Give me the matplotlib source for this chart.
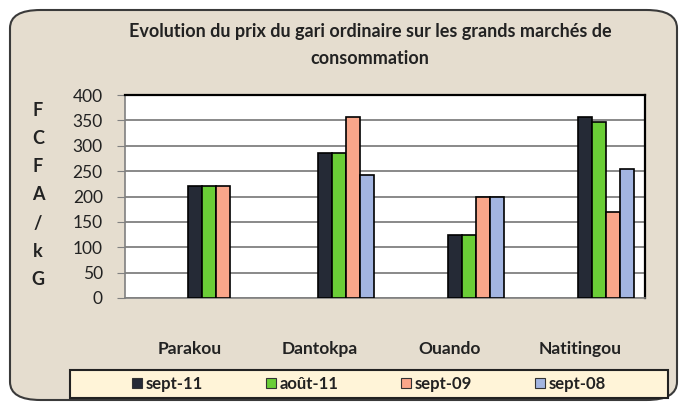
import numpy as np
import matplotlib.pyplot as plt
from matplotlib.patches import FancyBboxPatch, Rectangle, Patch

# Prix du gari ordinaire (FCFA/kg)
markets = ["Parakou", "Dantokpa", "Ouando", "Natitingou"]
periods = ["sept-11", "août-11", "sept-09", "sept-08"]
sept_11 = [220, 285, 125, 357]
aout_11 = [220, 285, 125, 346]
sept_09 = [220, 357, 200, 170]
sept_08 = [np.nan, 242, 200, 255]
colors = ["#252a36", "#6acd36", "#f9a68a", "#a3b5e1"]

plt.rcParams['font.family'] = ['Lato', 'DejaVu Sans']

fig = plt.figure(figsize=(6.8, 4.03), dpi=100)
W, H = 680, 403
fig.patch.set_facecolor("white")

# outer rounded frame
frame = FancyBboxPatch((10 / W, 3 / H), 667 / W, 390 / H,
                       boxstyle="round,pad=0,rounding_size=0.045",
                       transform=fig.transFigure, facecolor="#e5ddcf",
                       edgecolor="#3a3a3a", linewidth=1.5, zorder=0)
fig.patches.append(frame)

ax = fig.add_axes([125 / W, (H - 298) / H, 520 / W, 203 / H])
ax.set_zorder(3)
ax.set_facecolor("white")

x = np.arange(len(markets))
w = 14 / 130
shift = 26 / 130
series = [sept_11, aout_11, sept_09, sept_08]
for k, vals in enumerate(series):
    ax.bar(x + shift + (k - 1.5) * w, vals, width=w, color=colors[k],
           edgecolor="black", linewidth=1.2, label=periods[k], zorder=3)

ax.set_xlim(-0.5, 3.5)
ax.set_ylim(0, 400)
ax.set_yticks(range(0, 401, 50))
ax.yaxis.grid(True, color="#808080", linewidth=1.3, zorder=1)
ax.set_axisbelow(True)
ax.set_xticks(x)
ax.set_xticklabels(markets, fontsize=12.5, fontweight="bold", color="#222222")
ax.tick_params(axis="x", length=0, pad=31)
ax.tick_params(axis="y", length=6, color="#808080", labelsize=12.5,
               labelcolor="#222222", pad=10)

for s in ["top", "right"]:
    ax.spines[s].set_color("black")
    ax.spines[s].set_linewidth(1.6)
for s in ["left", "bottom"]:
    ax.spines[s].set_color("#808080")
    ax.spines[s].set_linewidth(1.2)

fig.text(370 / W, 1 - 31 / H, "Evolution du prix du gari ordinaire sur les grands marchés de",
         ha="center", va="center", fontsize=13, fontweight="bold", color="#222222")
fig.text(370 / W, 1 - 58 / H, "consommation",
         ha="center", va="center", fontsize=13, fontweight="bold", color="#222222")

fig.text(38 / W, 1 - 195 / H, "F\nC\nF\nA\n/\nk\nG", ha="center", va="center",
         fontsize=13, fontweight="bold", color="#222222", linespacing=1.8)

# legend box
fig.patches.append(Rectangle((70 / W, 5 / H), 598 / W, 28 / H,
                             transform=fig.transFigure, facecolor="#fff4d8",
                             edgecolor="#222222", linewidth=1.5, zorder=1))
handles = [Patch(facecolor=c, edgecolor="#333333", linewidth=0.8) for c in colors]
leg = fig.legend(handles, periods, loc="center", bbox_to_anchor=(369 / W, 19 / H),
                 ncol=4, frameon=False, fontsize=12, handlelength=0.6,
                 handleheight=0.6, handletextpad=0.2, columnspacing=3.8)
for t in leg.get_texts():
    t.set_fontweight("bold")
    t.set_color("#222222")

fig.savefig("out.png", dpi=100)
